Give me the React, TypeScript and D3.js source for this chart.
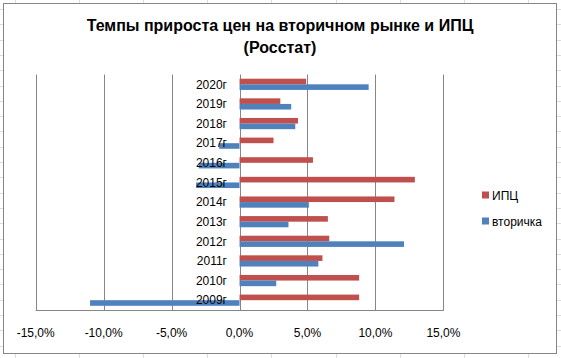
import React from "react";
import * as d3 from "d3";

const years = ["2009г", "2010г", "2011г", "2012г", "2013г", "2014г", "2015г", "2016г", "2017г", "2018г", "2019г", "2020г"];
const cpi = [8.8, 8.8, 6.1, 6.6, 6.5, 11.4, 12.9, 5.4, 2.5, 4.3, 3.0, 4.9];
const secondary = [-11.0, 2.7, 5.8, 12.1, 3.6, 5.1, -3.2, -3.0, -1.5, 4.1, 3.8, 9.5];
const xTicks = [-15, -10, -5, 0, 5, 10, 15];
const seriesNames = ["ИПЦ", "вторичка"];
const titleLines = ["Темпы прироста цен на вторичном рынке и ИПЦ", "(Росстат)"];

const W = 561;
const H = 358;
const RED = "#C0504D";
const BLUE = "#4F81BD";
const GRID = "#868686";
const FONT = "'Liberation Sans', Arial, sans-serif";

const locale = d3.formatLocale({ decimal: ",", thousands: " ", grouping: [3], currency: ["", ""], minus: "-" });
const fmt = locale.format(".1f");

export default function App() {
  const plot = { left: 35.7, right: 443.4, top: 74.5, bottom: 310 };
  const x = d3.scaleLinear().domain([-15, 15]).range([plot.left, plot.right]);
  const y = d3
    .scaleBand()
    .domain([...years].reverse())
    .range([plot.top, plot.bottom])
    .paddingInner(0)
    .paddingOuter(0);
  const step = y.step();
  const barH = step / 3.5;
  const sheetV = d3.range(15, W, 64.1);
  const sheetH = d3.range(9, H, 15.3);

  return (
    <svg width={W} height={H} style={{ position: "absolute", left: 0, top: 0, background: "#fff" }}>
      {/* spreadsheet cell grid behind the chart */}
      {sheetV.map((v, i) => (
        <line key={"sv" + i} x1={Math.round(v) + 0.5} x2={Math.round(v) + 0.5} y1={0} y2={H} stroke="#dadcdd" />
      ))}
      {sheetH.map((v, i) => (
        <line key={"sh" + i} x1={0} x2={W} y1={Math.round(v) + 0.5} y2={Math.round(v) + 0.5} stroke="#dadcdd" />
      ))}
      <rect x={3.5} y={3.5} width={553} height={350} fill="#fff" stroke={GRID} />

      {titleLines.map((t, i) => (
        <text
          key={"t" + i}
          x={280}
          y={30.5 + i * 22.5}
          textAnchor="middle"
          fontFamily={FONT}
          fontWeight="bold"
          fontSize={16}
          fill="#000"
        >
          {t}
        </text>
      ))}

      {/* vertical gridlines */}
      {xTicks.map((t) => (
        <line
          key={"g" + t}
          x1={Math.round(x(t)) + 0.5}
          x2={Math.round(x(t)) + 0.5}
          y1={plot.top}
          y2={plot.bottom}
          stroke={GRID}
        />
      ))}
      {/* bottom axis line */}
      <line x1={plot.left} x2={plot.right + 0.5} y1={plot.bottom + 0.5} y2={plot.bottom + 0.5} stroke={GRID} />

      {/* bars */}
      {years.map((yr, i) => {
        const c = (y(yr) as number) + step / 2;
        return (
          <g key={yr}>
            <rect
              x={Math.min(x(0), x(cpi[i]))}
              width={Math.abs(x(cpi[i]) - x(0))}
              y={c - barH}
              height={barH}
              fill={RED}
            />
            <rect
              x={Math.min(x(0), x(secondary[i]))}
              width={Math.abs(x(secondary[i]) - x(0))}
              y={c}
              height={barH}
              fill={BLUE}
            />
          </g>
        );
      })}

      {/* category labels */}
      {years.map((yr) => (
        <text
          key={"l" + yr}
          x={227}
          y={(y(yr) as number) + step / 2 + 4.3}
          textAnchor="end"
          fontFamily={FONT}
          fontSize={12}
          fill="#000"
        >
          {yr}
        </text>
      ))}

      {/* x tick labels */}
      {xTicks.map((t) => (
        <text key={"x" + t} x={x(t)} y={336.7} textAnchor="middle" fontFamily={FONT} fontSize={12} fill="#000">
          {fmt(t) + "%"}
        </text>
      ))}

      {/* legend */}
      {seriesNames.map((n, i) => (
        <g key={n}>
          <rect x={482} y={191.5 + i * 26} width={7} height={7} fill={i === 0 ? RED : BLUE} />
          <text x={492} y={199.5 + i * 26} fontFamily={FONT} fontSize={12} fill="#000">
            {n}
          </text>
        </g>
      ))}
    </svg>
  );
}
